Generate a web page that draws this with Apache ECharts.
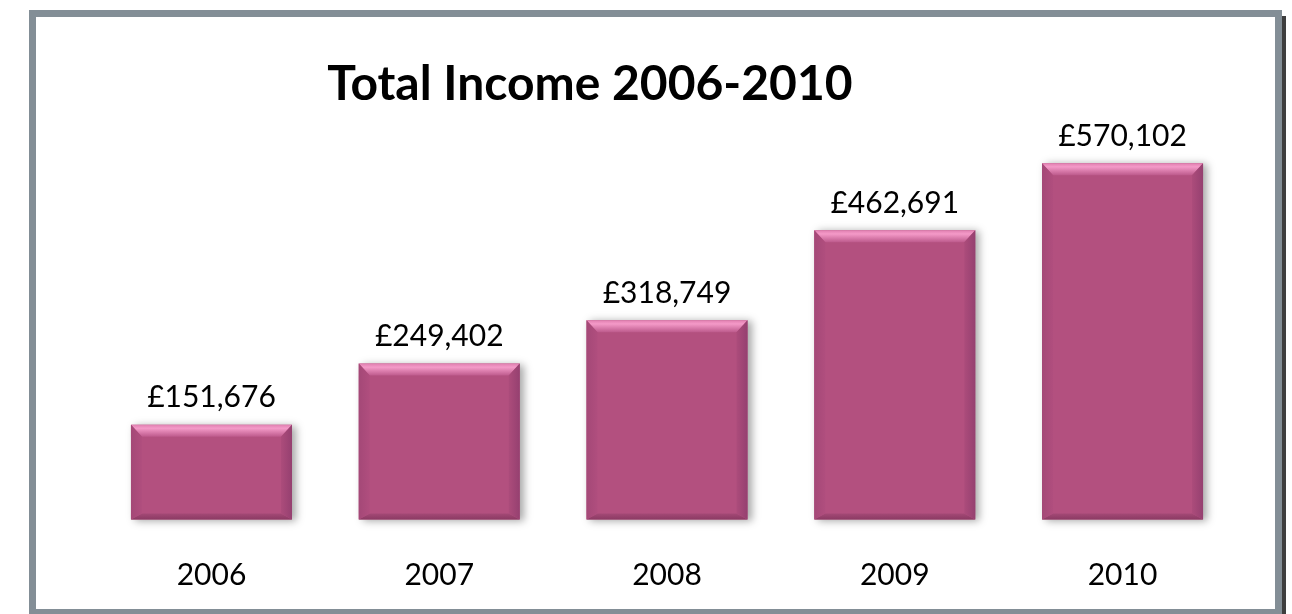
<!DOCTYPE html>
<html>
<head>
<meta charset="utf-8">
<script src="https://cdn.jsdelivr.net/npm/echarts@6/dist/echarts.min.js"></script>
<style>
  html, body { margin: 0; padding: 0; background: #ffffff; }
  #chart { width: 1292px; height: 614px; }
</style>
</head>
<body>
<div id="chart"></div>
<script>
const titleText = 'Total Income 2006-2010';
const years = ['2006', '2007', '2008', '2009', '2010'];
const income = [151676, 249402, 318749, 462691, 570102];

const fmt = v => '£' + v.toLocaleString('en-GB');

const chart = echarts.init(document.getElementById('chart'));

function bevelItem(params, api) {
  const idx = api.value(0);
  const val = api.value(1);
  const top = api.coord([idx, val]);
  const bot = api.coord([idx, 0]);
  const w = api.size([1, 0])[0] * 0.707;
  const x0 = top[0] - w / 2, x1 = top[0] + w / 2;
  const y0 = top[1], y1 = bot[1];
  const b = 11, bt = 12, bb = 6;
  return {
    type: 'group',
    children: [
      { type: 'polygon', shape: { points: [[x0, y0], [x1, y0], [x1 - b, y0 + bt], [x0 + b, y0 + bt]] },
        style: { fill: new echarts.graphic.LinearGradient(0, 0, 0, 1, [
          { offset: 0, color: '#E07FB0' }, { offset: 0.3, color: '#F49AC8' }, { offset: 1, color: '#BD5A8C' }]) } },
      { type: 'polygon', shape: { points: [[x0, y1], [x1, y1], [x1 - b, y1 - bb], [x0 + b, y1 - bb]] },
        style: { fill: new echarts.graphic.LinearGradient(0, 0, 0, 1, [
          { offset: 0, color: '#A44976' }, { offset: 1, color: '#8B3A63' }]) } },
      { type: 'polygon', shape: { points: [[x0, y0], [x0 + b, y0 + bt], [x0 + b, y1 - bb], [x0, y1]] },
        style: { fill: new echarts.graphic.LinearGradient(0, 0, 1, 0, [
          { offset: 0, color: '#A44877' }, { offset: 1, color: '#B04E7E' }]) } },
      { type: 'polygon', shape: { points: [[x1, y0], [x1 - b, y0 + bt], [x1 - b, y1 - bb], [x1, y1]] },
        style: { fill: new echarts.graphic.LinearGradient(0, 0, 1, 0, [
          { offset: 0, color: '#AC4C7B' }, { offset: 1, color: '#954070' }]) } }
    ]
  };
}

chart.setOption({
  backgroundColor: '#ffffff',
  animation: false,
  title: {
    text: titleText,
    left: 585,
    top: 56,
    textAlign: 'center',
    textStyle: { fontFamily: 'Lato', fontWeight: 'bold', fontSize: 48, color: '#000000' }
  },
  grid: { left: 97.6, right: 55.6, top: 144.5, bottom: 94.5 },
  xAxis: {
    type: 'category',
    data: years,
    axisLine: { show: false },
    axisTick: { show: false },
    axisLabel: { fontFamily: 'Lato', fontSize: 30, color: '#000000', margin: 41 }
  },
  yAxis: {
    type: 'value',
    min: 0,
    max: 600000,
    show: false,
    splitLine: { show: false }
  },
  graphic: [
    { type: 'rect', shape: { x: 1281, y: 16, width: 5, height: 610 }, style: { fill: '#3E3E3E' }, z: 100 },
    { type: 'rect', shape: { x: 32.5, y: 13.5, width: 1246, height: 599 },
      style: { fill: null, stroke: '#838E96', lineWidth: 7 }, z: 101 }
  ],
  series: [
    {
      type: 'bar',
      data: income,
      barWidth: '70.7%',
      itemStyle: {
        color: '#B3507F',
        shadowColor: 'rgba(0,0,0,0.35)',
        shadowBlur: 8,
        shadowOffsetX: 4,
        shadowOffsetY: 1
      },
      label: {
        show: true,
        position: 'top',
        distance: 12,
        fontFamily: 'Lato',
        fontSize: 30,
        color: '#000000',
        formatter: p => fmt(p.value)
      },
      z: 2
    },
    {
      type: 'custom',
      data: income.map((v, i) => [i, v]),
      renderItem: bevelItem,
      silent: true,
      z: 3
    }
  ]
});
</script>
</body>
</html>
